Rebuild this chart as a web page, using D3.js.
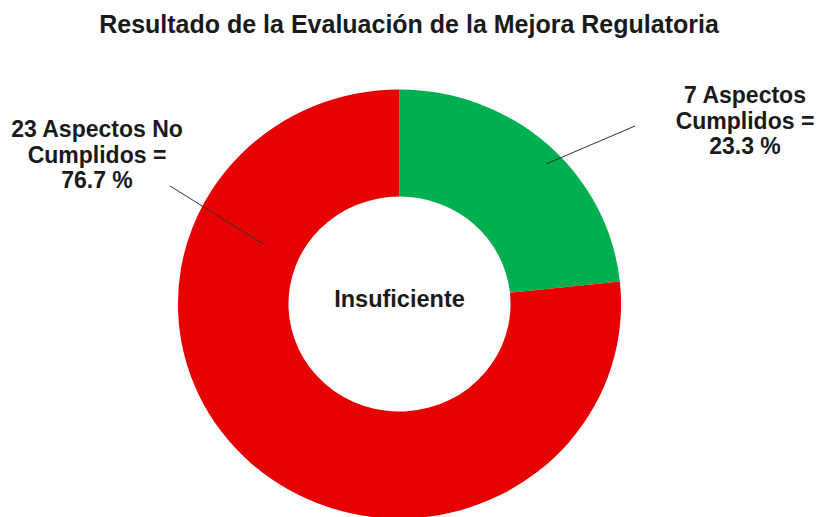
<!DOCTYPE html>
<html>
<head>
<meta charset="utf-8">
<script src="https://cdn.jsdelivr.net/npm/d3@7"></script>
<style>
  html, body { margin: 0; padding: 0; background: #ffffff; }
  svg text { font-family: "Liberation Sans", Arial, sans-serif; font-weight: bold; fill: #1a1a1a; }
</style>
</head>
<body>
<svg id="chart" width="819" height="517"></svg>
<script>
// ---- data ----
const categories = ["Aspectos Cumplidos", "Aspectos No Cumplidos"];
const values = [7, 23];
const colors = ["#00B050", "#E60000"];
const title = "Resultado de la Evaluación de la Mejora Regulatoria";
const centerText = "Insuficiente";

// ---- layout ----
const W = 819, H = 517;
const cx = 399.5, cy = 304;
const rOuter = 214.5, rInner = 107.5, sx = 1.033;

const svg = d3.select("#chart");
svg.append("rect").attr("width", W).attr("height", H).attr("fill", "#fff");

svg.append("text")
  .attr("x", 409).attr("y", 33)
  .attr("text-anchor", "middle")
  .attr("font-size", 25)
  .text(title);

const total = d3.sum(values);
const pie = d3.pie().sort(null).value(d => d)(values);
const arc = d3.arc().innerRadius(rInner).outerRadius(rOuter);

const g = svg.append("g").attr("transform", `translate(${cx},${cy}) scale(${sx},1)`);
g.selectAll("path").data(pie).join("path")
  .attr("d", arc)
  .attr("fill", (d, i) => colors[i]);

svg.append("text")
  .attr("x", cx).attr("y", 307)
  .attr("text-anchor", "middle")
  .attr("font-size", 23.5)
  .text(centerText);

// labels
const labelLayout = [
  { x: 745, y: 103, lead: [[546, 164], [635, 126]] },
  { x: 97, y: 137, lead: [[265, 245], [170, 186]] }
];
const lineH = 25.5;

pie.forEach((d, i) => {
  const L = labelLayout[i];
  const pct = (values[i] / total * 100).toFixed(1);
  const words = categories[i].split(" ");
  const lines = [values[i] + " " + words.slice(0, words.length - 1).join(" "),
                 words[words.length - 1] + " =",
                 pct + " %"];
  const t = svg.append("text")
    .attr("text-anchor", "middle")
    .attr("font-size", 23);
  lines.forEach((ln, k) => {
    t.append("tspan").attr("x", L.x).attr("y", L.y + k * lineH).text(ln);
  });
  svg.append("line")
    .attr("x1", L.lead[0][0]).attr("y1", L.lead[0][1])
    .attr("x2", L.lead[1][0]).attr("y2", L.lead[1][1])
    .attr("stroke", "#333").attr("stroke-width", 1);
});
</script>
</body>
</html>
